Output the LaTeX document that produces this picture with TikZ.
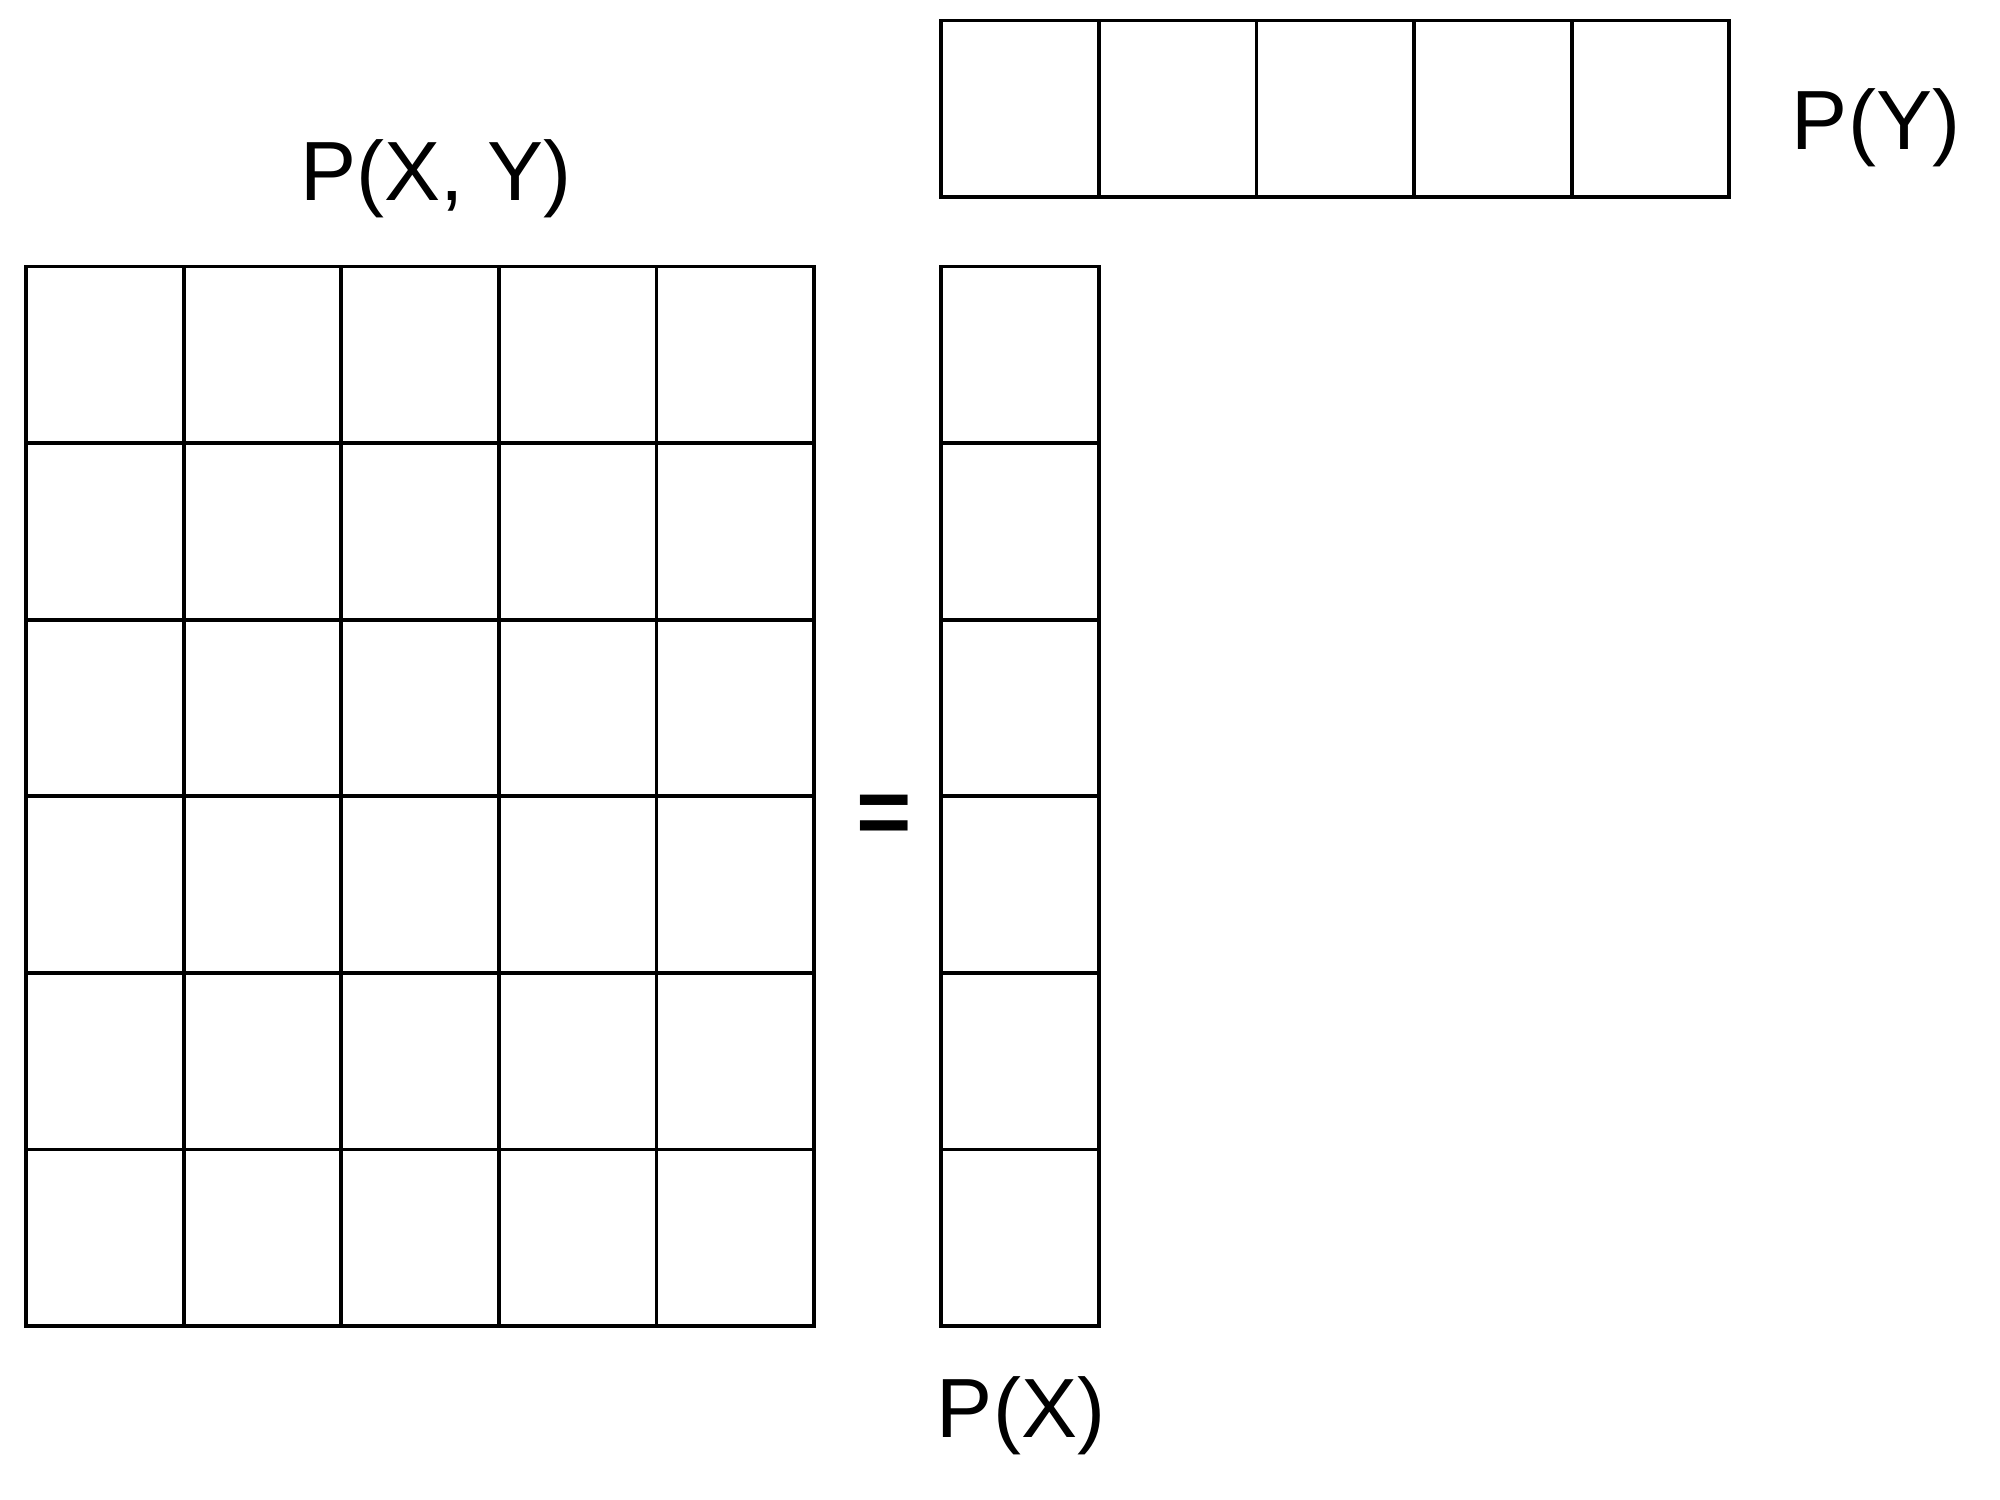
\documentclass[tikz,border=0pt]{standalone}
\usepackage{fontspec}
\setmainfont{Liberation Sans}
\begin{document}
\begin{tikzpicture}[x=0.01cm,y=-0.01cm,
  gridline/.style={draw=black,line width=0.038cm,line cap=rect,line join=miter},
  lbl/.style={font=\fontsize{23.9}{28}\selectfont,inner sep=0pt}]
\useasboundingbox (0,0) rectangle (2000,1500);
% joint table P(X,Y): 5 columns x 6 rows
\coordinate (J) at (26,266.5);
\draw[gridline] (J) rectangle ++(788,1059.5);
\foreach \i in {1,...,4} \draw[gridline] ([xshift={157.6*\i*0.01cm}]J) -- ++(0,1059.5);
\foreach \j in {1,...,5} \draw[gridline] ([yshift={-176.6*\j*0.01cm}]J) -- ++(788,0);
% column vector P(X): 1 column x 6 rows
\coordinate (C) at (941.3,266.5);
\draw[gridline] (C) rectangle ++(157.6,1059.5);
\foreach \j in {1,...,5} \draw[gridline] ([yshift={-176.6*\j*0.01cm}]C) -- ++(157.6,0);
% row vector P(Y): 5 columns x 1 row
\coordinate (R) at (941.3,20.5);
\draw[gridline] (R) rectangle ++(788,176.5);
\foreach \i in {1,...,4} \draw[gridline] ([xshift={157.6*\i*0.01cm}]R) -- ++(0,176.5);
% labels
\node[lbl,anchor=base] (pxy) at (436,201) {P(X, Y)};
\node[lbl,anchor=base] (py) at (1876,149.3) {P(Y)};
\node[lbl,anchor=base] (px) at (1021,1437) {P(X)};
\node[inner sep=0pt,font=\fontsize{27}{30}\selectfont\bfseries] (eq) at (884,820) {=};
\end{tikzpicture}
\end{document}
